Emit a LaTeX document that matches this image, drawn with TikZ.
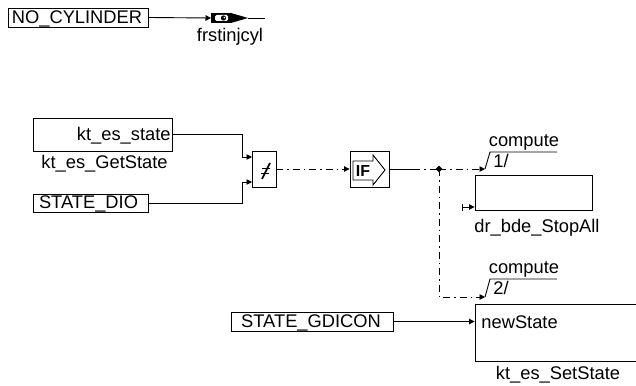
\documentclass[tikz,border=0pt]{standalone}
\usepackage{fontspec}
\setmainfont{Liberation Sans}
\usetikzlibrary{arrows.meta}
\begin{document}
\begin{tikzpicture}[x=1pt,y=-1pt,line width=0.9pt,
  every node/.style={font=\fontsize{18.3}{21}\selectfont},
  blk/.style={draw,rectangle,inner sep=0pt},
  txt/.style={inner sep=0pt,anchor=base},
  tip/.style={-{Triangle[length=5.5pt,width=5.5pt]}},
  dd/.style={dash pattern=on 7pt off 4pt on 1.5pt off 4pt}]
\clip (0,0) rectangle (636,385);
% boxes
\node[blk,minimum width=140pt,minimum height=19pt] (nocyl) at (78,17.5) {};
\node[blk,minimum width=139pt,minimum height=33pt] (getstate) at (102.5,134.5) {};
\node[blk,minimum width=115pt,minimum height=18pt] (dio) at (90.5,203) {};
\node[blk,minimum width=24pt,minimum height=36pt] (neq) at (264,169) {};
\node[blk,minimum width=39pt,minimum height=36pt] (ifbox) at (369.5,169) {};
\node[blk,minimum width=117pt,minimum height=35pt] (stopall) at (533.5,192.5) {};
\node[blk,minimum width=162pt,minimum height=19pt] (gdicon) at (312,321.5) {};
\node[blk,minimum width=175pt,minimum height=57pt] (setstate) at (562.5,332.5) {};
% texts
\node[txt] (t1) at (77,24) {NO\_CYLINDER};
\node[txt] (t2) at (230,42) {frstinjcyl};
\node[txt,anchor=base east] (t3) at (171,140) {kt\_es\_state};
\node[txt,anchor=base west] (t4) at (41,168) {kt\_es\_GetState};
\node[txt] (t5) at (88.5,208) {STATE\_DIO};
\node[txt] (t6) at (524,146) {compute};
\node[txt,anchor=base west] (t7) at (493,167) {1/};
\node[txt] (t8) at (537,232) {dr\_bde\_StopAll};
\node[txt] (t9) at (524,273) {compute};
\node[txt,anchor=base west] (t10) at (493,294) {2/};
\node[txt,anchor=base west] (t11) at (481,328) {newState};
\node[txt] (t12) at (311,327) {STATE\_GDICON};
\node[txt] (t13) at (558,379) {kt\_es\_SetState};
% frstinjcyl icon
\coordinate (frst) at (211,18);
\fill (211,13) rectangle (231,23);
\fill[white,rounded corners=1.5pt] (215,15) rectangle (228,21);
\fill (223.5,18) circle (2.6pt);
\fill[white] (224.3,17.6) circle (0.9pt);
\fill (231,13) -- (248,18) -- (231,23) -- cycle;
\draw (248,18) -- (265,18);
\draw[tip] (nocyl.east) -- (frst);
% not-equal symbol
\draw[line width=1.7pt] (262,168.5) -- (270,168.5);
\draw[line width=1.7pt] (260.5,173.5) -- (268.5,173.5);
\draw[line width=1.7pt] (262,179) -- (270,163);
\coordinate (nin1) at (252,157);
\coordinate (nin2) at (252,182);
\draw[tip] (getstate.east) -| (242,157) -- (nin1);
\draw[tip] (dio.east) -| (242,182) -- (nin2);
\draw[tip,dd] (neq.east) -- (ifbox.west);
% IF icon
\draw (353,161) -- (373,161) -- (373,155) -- (385,170) -- (373,185) -- (373,180) -- (353,180) -- cycle;
\node[inner sep=0pt,font=\bfseries\fontsize{16}{16}\selectfont] (iftext) at (363,170.5) {IF};
% branches
\coordinate (solidend) at (413,169);
\coordinate (dot) at (439,169);
\coordinate (c1) at (485,169);
\coordinate (c2) at (485,297);
\draw (ifbox.east) -- (solidend);
\draw[dd] (solidend) -- (dot);
\draw[dd,tip] (dot) -- (c1);
\draw[dd,tip] (dot) |- (c2);
\fill (dot) +(-3.3,0) -- +(0,-3.3) -- +(3.3,0) -- +(0,3.3) -- cycle;
% compute ticks
\draw (c1) -- (490,152) -- (557,152);
\draw (c2) -- (490,279) -- (557,279);
% stopall enable
\coordinate (en) at (462,207);
\draw[{Bar[width=7pt]}-{Triangle[length=5.5pt,width=5.5pt]}] (en) -- (stopall.west |- en);
% gdicon
\draw[tip] (gdicon.east) -- (setstate.west |- gdicon.east);
\end{tikzpicture}
\end{document}
